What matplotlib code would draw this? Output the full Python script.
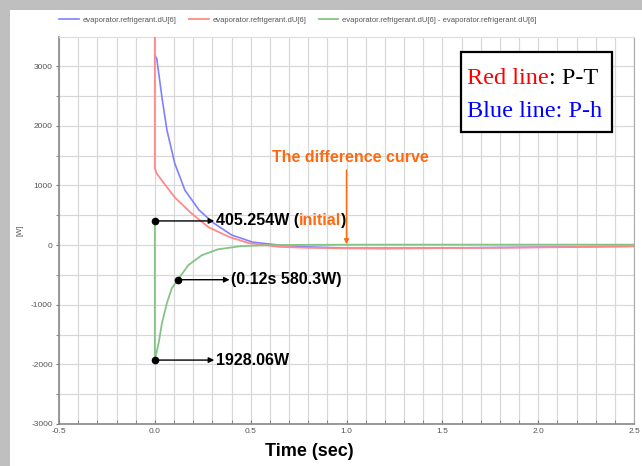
import numpy as np
import matplotlib
matplotlib.use("Agg")
import matplotlib.pyplot as plt
from matplotlib.patches import Rectangle
from matplotlib.text import Annotation
from matplotlib.ticker import MultipleLocator, FixedLocator

plt.rcParams["axes.unicode_minus"] = False

# --- data -------------------------------------------------------------
# P-h model (blue)
blue_t = [0.0, 0.01, 0.037, 0.063, 0.104, 0.157, 0.23, 0.30, 0.40, 0.51, 0.65, 0.8, 1.0, 1.3, 1.6, 2.0, 2.5]
blue_w = [3180, 3130, 2480, 1930, 1370, 920, 590, 385, 170, 50, 0, -30, -50, -50, -45, -35, -20]

# P-T model (red)
red_t = [0.0, 0.0, 0.01, 0.047, 0.104, 0.19, 0.28, 0.39, 0.49, 0.65, 0.8, 1.0, 1.2, 1.5, 1.8, 2.1, 2.5]
red_w = [6000, 1290, 1200, 1040, 800, 535, 300, 134, 34, -30, -45, -55, -60, -50, -45, -35, -20]

# difference curve (green)
green_t = [0.0, 0.0, 0.02, 0.037, 0.063, 0.089, 0.12, 0.175, 0.245, 0.33, 0.45, 0.61, 0.8, 1.2, 1.8, 2.5]
green_w = [405.254, -1928.06, -1640, -1310, -970, -720, -580.3, -335, -170, -70, -17, 0, 5, 8, 8, 8]

series_label = "evaporator.refrigerant.dU[6]"
diff_label = "evaporator.refrigerant.dU[6] - evaporator.refrigerant.dU[6]"

initial_pt = (0.0, 405.254)
mid_pt = (0.12, -580.3)
min_pt = (0.0, -1928.06)

x_ticks = [-0.5, 0.0, 0.5, 1.0, 1.5, 2.0, 2.5]
x_tick_labels = ["-0.5", "0.0", "0.5", "1.0", "1.5", "2.0", "2.5"]
y_ticks = [-3000, -2000, -1000, 0, 1000, 2000, 3000]

# --- figure -----------------------------------------------------------
W, H = 642, 466
fig = plt.figure(figsize=(W / 100, H / 100), dpi=100)


def fx(px):
    return px / W


def fy(py):
    return 1 - py / H


# grey window frame
fig.patches.append(Rectangle((0, 0), fx(10), 1, transform=fig.transFigure,
                             facecolor="#bfbfbf", edgecolor="none", zorder=0))
fig.patches.append(Rectangle((0, fy(10)), 1, fy(0) - fy(10), transform=fig.transFigure,
                             facecolor="#bfbfbf", edgecolor="none", zorder=0))

ax = fig.add_axes([fx(59), fy(424), fx(634) - fx(59), fy(37) - fy(424)])
ax.set_xlim(-0.5, 2.5)
ax.set_ylim(-3000, 3490)

narrow = ["Liberation Sans Narrow", "Liberation Sans", "DejaVu Sans"]

ax.xaxis.set_major_locator(FixedLocator(x_ticks))
ax.set_xticklabels(x_tick_labels)
ax.xaxis.set_minor_locator(MultipleLocator(0.1))
ax.yaxis.set_major_locator(FixedLocator(y_ticks))
ax.yaxis.set_minor_locator(MultipleLocator(500))
ax.grid(True, which="both", color="#d8d8d8", lw=0.9, zorder=0)
ax.set_axisbelow(True)

ax.tick_params(axis="x", which="both", direction="in", length=3, color="#777777",
               labelsize=6, labelcolor="#555555", pad=3)
ax.tick_params(axis="y", which="both", direction="out", length=2.5, color="#777777",
               labelsize=6, labelcolor="#555555", pad=2)
for lab in ax.get_xticklabels() + ax.get_yticklabels():
    lab.set_family(narrow)

for side in ("left", "bottom"):
    ax.spines[side].set_color("#888888")
    ax.spines[side].set_linewidth(1.2)
ax.spines["right"].set_color("#aaaaaa")
ax.spines["top"].set_color("#dddddd")

# curves
l_blue, = ax.plot(blue_t, blue_w, color="#8080ff", lw=1.2, zorder=3)
l_red, = ax.plot(red_t, red_w, color="#ff8a8a", lw=1.3, zorder=4)
l_green, = ax.plot(green_t, green_w, color="#86c486", lw=1.3, zorder=5)

fig.legend([l_blue, l_red, l_green], [series_label, series_label, diff_label],
           loc="center left", bbox_to_anchor=(fx(56), fy(20)), ncol=3, frameon=False,
           prop={"family": narrow, "size": 5.5}, labelcolor="#555555",
           handlelength=2.6, handletextpad=0.5, columnspacing=1.6, borderaxespad=0)

fig.text(fx(20), fy(230), "[W]", rotation=90, ha="center", va="center",
         fontsize=5.5, color="#555555", family=narrow)
fig.text(fx(309), fy(452), "Time (sec)", ha="center", va="center",
         fontsize=13, fontweight="bold", family=["Liberation Sans", "DejaVu Sans"])

# --- annotations ------------------------------------------------------
orange = "#ff6a10"
bold = dict(fontsize=11.5, fontweight="bold", family=["Liberation Sans", "DejaVu Sans"])


def pointer(pt, tip_x, text_x, pieces):
    ax.plot(*pt, "o", color="black", ms=4.5, zorder=7)
    ax.annotate("", xy=(tip_x, pt[1]), xytext=pt,
                arrowprops=dict(arrowstyle="-|>", color="black", lw=1.0,
                                mutation_scale=8, shrinkA=0, shrinkB=0), zorder=7)
    s, c = pieces[0]
    t = ax.text(text_x, pt[1], s, color=c, va="center", ha="left", zorder=8, **bold)
    for s, c in pieces[1:]:
        t = ax.annotate(s, xy=(1, 0), xycoords=t, va="bottom", ha="left",
                        color=c, zorder=8, **bold)


pointer(initial_pt, 0.31, 0.318,
        [(f"{initial_pt[1]:.3f}W (", "black"), ("initial", orange), (")", "black")])
pointer(mid_pt, 0.39, 0.398,
        [(f"({mid_pt[0]:.2f}s {abs(mid_pt[1]):.1f}W)", "black")])
pointer(min_pt, 0.31, 0.318,
        [(f"{abs(min_pt[1]):.2f}W", "black")])

ax.text(1.02, 1475, "The difference curve", color=orange, ha="center", va="center",
        zorder=8, **bold)
ax.annotate("", xy=(1.0, 15), xytext=(1.0, 1260),
            arrowprops=dict(arrowstyle="-|>", color=orange, lw=1.0,
                            mutation_scale=7, shrinkA=0, shrinkB=0), zorder=8)

# model key box
fig.patches.append(Rectangle((fx(461), fy(132)), fx(612) - fx(461), fy(52) - fy(132),
                             transform=fig.transFigure, facecolor="white",
                             edgecolor="black", lw=1.6, zorder=9))
serif = dict(fontsize=17.5, family=["Liberation Serif", "DejaVu Serif"])
t1 = fig.text(fx(467), fy(84), "Red line", color="red", va="baseline", ha="left",
              zorder=10, **serif)
fig.add_artist(Annotation(": P-T", xy=(1, 0), xycoords=t1, va="bottom", ha="left",
                          color="black", annotation_clip=False, zorder=10, **serif))
fig.text(fx(467), fy(117), "Blue line: P-h", color="blue", va="baseline", ha="left",
         zorder=10, **serif)

fig.savefig("out.png", dpi=100)
